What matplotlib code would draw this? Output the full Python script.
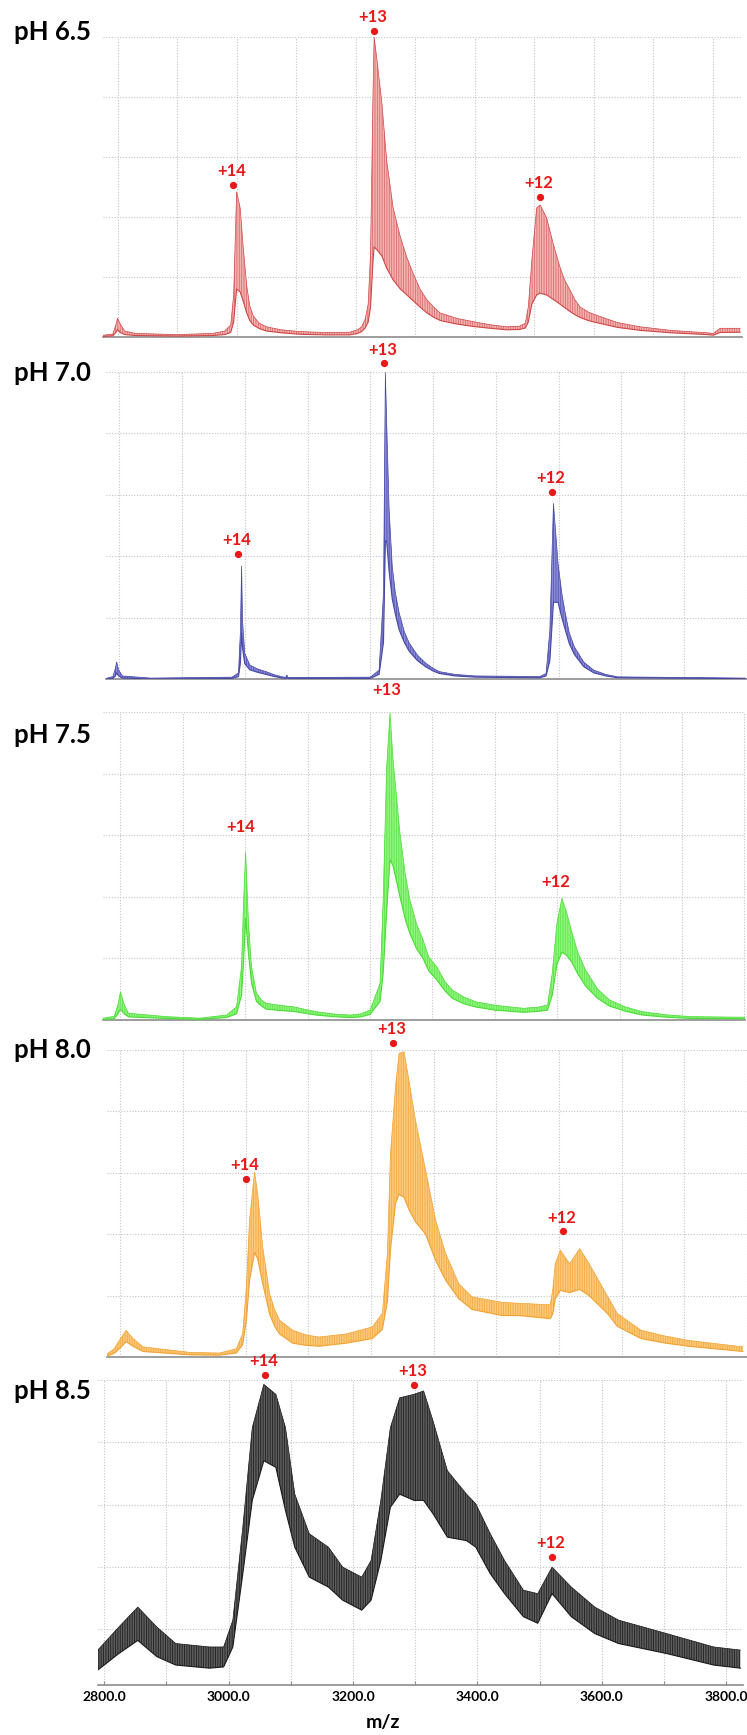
import numpy as np
import matplotlib
matplotlib.use('Agg')
import matplotlib.pyplot as plt

plt.rcParams['font.family'] = ['Lato', 'DejaVu Sans']
plt.rcParams['hatch.linewidth'] = 0.6

# --- spectra: m/z, upper and lower edge of the trace band (relative intensity, %) ---
ph65_mz = [2776, 2792, 2797, 2800, 2804, 2812, 2830, 2900, 2960, 2980, 2990, 2995, 2998, 3000, 3006,
           3011, 3017, 3022, 3028, 3038, 3050, 3075, 3107, 3150, 3190, 3203, 3210, 3216, 3221, 3225,
           3229, 3231, 3236, 3244, 3252, 3263, 3275, 3286, 3297, 3308, 3320, 3331, 3342, 3370, 3398,
           3426, 3454, 3475, 3485, 3490, 3496, 3504, 3510, 3521, 3532, 3543, 3551, 3560, 3568, 3577,
           3592, 3611, 3640, 3678, 3730, 3790, 3801, 3812, 3846]
ph65_hi = [0.6, 1.0, 4.0, 6.3, 4.5, 2.0, 1.2, 0.8, 1.2, 2.0, 4.0, 14, 35, 48.4, 43,
           30, 17, 10.5, 7, 4.6, 3.4, 2.4, 1.8, 1.5, 1.6, 2.4, 3.4, 6, 11, 28,
           80, 100, 92, 78, 59, 43, 33.4, 26.5, 21, 16, 12.3, 10, 8, 6.2, 5.1,
           4.1, 3.4, 3.6, 4.6, 10, 25.7, 43, 44, 39.6, 31, 23.4, 19, 15.7, 12.5, 10,
           8.2, 6.8, 4.8, 3.4, 2.2, 1.4, 1.2, 2.9, 2.9]
ph65_lo = [0.2, 0.4, 1.5, 2.5, 1.5, 0.8, 0.5, 0.3, 0.5, 0.8, 1.5, 5, 12, 16, 15,
           12, 8, 5.5, 4, 2.8, 2, 1.4, 0.9, 0.7, 0.7, 1.2, 1.8, 3, 5, 10,
           25, 30, 29, 27, 23, 19, 16, 14, 12, 10, 8, 6.6, 5.5, 4.3, 3.5,
           2.9, 2.4, 2.5, 3, 5, 11, 14, 14.6, 14, 12.5, 11, 9.8, 8.5, 7.5, 6.5,
           5.4, 4.5, 3.2, 2.2, 1.4, 0.8, 0.6, 1.5, 1.6]

ph70_mz = [2779, 2790, 2794, 2796, 2799, 2805, 2850, 2980, 2990, 2993, 2995, 2996.5, 3000, 3008,
           3020, 3034, 3047, 3060, 3065, 3067, 3069, 3200, 3214, 3221, 3224, 3226, 3230, 3235,
           3240, 3246, 3254, 3262, 3275, 3288, 3300, 3310, 3335, 3367, 3470, 3480, 3486, 3491.7,
           3499, 3505, 3510.6, 3517, 3525, 3540, 3556, 3575, 3594, 3797]
ph70_hi = [0.2, 0.8, 3.5, 5.6, 3.0, 1.0, 0.3, 0.6, 2.0, 15, 36.8, 19, 8.4, 4.6,
           3.3, 2.4, 1.4, 0.7, 0.5, 1.3, 0.5, 0.6, 2.9, 28, 99.8, 84, 55, 36.6,
           28, 21.5, 15.5, 11.7, 7.8, 5.2, 3.5, 2.4, 1.5, 1.0, 0.8, 1.8, 16, 57.2,
           37.7, 28, 21.4, 15, 10.5, 5.5, 2.9, 1.5, 0.7, 0.3]
ph70_lo = [0, 0.2, 1, 2, 1, 0.3, 0, 0.2, 0.8, 5, 15, 10, 5, 3,
           2.2, 1.5, 0.8, 0.3, 0.2, 0.4, 0.2, 0.2, 1.5, 12, 45, 45, 35, 26,
           21, 16, 12, 9, 6, 4, 2.6, 1.8, 1.0, 0.6, 0.4, 1, 6, 25,
           25, 20, 16, 11.5, 8, 4, 2, 1, 0.4, 0.1]

ph75_mz = [2772, 2790, 2796, 2800, 2806, 2813, 2874, 2927, 2970, 2986, 2994, 2997, 3000.6, 3005,
           3010, 3018, 3026, 3034, 3055, 3077, 3095, 3114, 3140, 3168, 3185, 3200, 3216, 3221,
           3226.6, 3232, 3237, 3248, 3256, 3264, 3275, 3285, 3294, 3307, 3320, 3332, 3350, 3370,
           3400, 3446, 3470, 3484.5, 3492, 3499.5, 3507.5, 3515, 3522.6, 3533, 3545.5, 3565, 3584,
           3610, 3637, 3675, 3713.5, 3801]
ph75_hi = [0.6, 1.2, 5, 9.2, 5, 2.2, 1.1, 0.6, 1.6, 4.3, 17.3, 36.8, 54.6, 32.4,
           17.3, 8.7, 6.5, 5.4, 4.8, 4.3, 3.5, 2.7, 2.0, 1.6, 2.0, 3.2, 11.9, 38.9,
           82, 99.7, 84.3, 60.6, 48, 38.9, 31, 26, 20.5, 17.3, 12.5, 9.7, 7.5, 5.9,
           4.8, 3.8, 4.2, 4.9, 15.1, 31.4, 39.5, 35, 29.2, 22, 16.2, 10, 6.5,
           4.2, 2.7, 1.7, 1.1, 0.9]
ph75_lo = [0.2, 0.4, 2, 3.5, 2, 1, 0.5, 0.2, 0.8, 2, 8, 18, 33, 22,
           12, 6, 4.5, 3.5, 3.1, 2.8, 2.2, 1.6, 1.1, 0.8, 1.0, 1.8, 6, 15,
           35, 52, 50, 40, 33, 28, 23, 20, 16, 13, 9.5, 7, 5.3, 4.2,
           3.2, 2.5, 2.8, 3.2, 8, 18, 22, 21, 19, 15, 11, 7, 4.5,
           2.8, 1.6, 0.9, 0.5, 0.4]

ph80_mz = [2778.5, 2790, 2800, 2809, 2820, 2836, 2911, 2958, 2985, 2995, 3001, 3006, 3014, 3019,
           3027, 3038, 3046, 3054, 3075, 3096, 3117, 3160, 3202, 3218, 3226, 3231, 3239, 3244.6,
           3252.6, 3260.5, 3271, 3287, 3303, 3319, 3340, 3361, 3409, 3436, 3486, 3490, 3494, 3502,
           3517, 3533, 3548, 3578, 3593, 3631, 3670, 3707, 3793.5]
ph80_hi = [1.0, 2.7, 6, 8.7, 6, 3.3, 1.5, 1.3, 2.7, 7.6, 22.8, 44.6, 60.3, 53.3,
           35.9, 20.7, 15.5, 12, 8.7, 7.2, 6.5, 7.5, 9.8, 14.2, 33.7, 66.3, 88, 98.9,
           99.4, 90, 77, 60.9, 44.6, 33.7, 23.9, 19.6, 17.8, 17.5, 17, 22, 30.4, 34.8,
           30.4, 35.3, 30.4, 19.6, 14.2, 8.7, 6.8, 5.4, 3.3]
ph80_lo = [0.3, 1.2, 3, 5, 3.5, 1.8, 0.7, 0.6, 1.3, 4, 12, 25, 34, 32,
           24, 14, 10, 7.5, 4.5, 3.8, 3.5, 4.5, 6, 9, 18, 35, 50, 53,
           52, 48, 44, 40, 31.5, 25, 19, 15.5, 13.5, 13.5, 12.5, 14, 19, 21.7,
           21, 22, 20, 14, 10, 6, 4.5, 3.5, 1.8]

ph85_mz = [2789.7, 2823.5, 2854, 2884.6, 2915, 2969, 2992, 3006.8, 3022.8, 3038, 3056.6, 3076,
           3091.5, 3106.4, 3129.7, 3160.5, 3183.4, 3214, 3229, 3244.7, 3260, 3275, 3298, 3313.5,
           3328.8, 3351.8, 3382.5, 3397.4, 3420.7, 3443.7, 3474, 3497, 3520, 3551, 3588.7, 3627,
           3704, 3780, 3822.7]
ph85_hi = [13.4, 20.8, 27.2, 20.8, 15.5, 14.4, 14.4, 23, 52.8, 84.7, 98.6, 95.4,
           84.7, 63.4, 50.7, 46.4, 40, 36.8, 42.1, 61.4, 84.7, 94.3, 95.4, 96.5,
           86.8, 70.9, 63.4, 60.3, 50.7, 42.1, 32.6, 31.5, 40, 33.6, 27.2, 23,
           18.7, 14.4, 13.4]
ph85_lo = [7.0, 12.3, 16.5, 11.3, 8.6, 7.6, 8.0, 14.4, 37.9, 61.4, 74.1, 72,
           58.1, 46.4, 36.8, 33.6, 29.4, 26.2, 29.4, 42.1, 59.2, 63.4, 61.4, 61.4,
           57.1, 49.6, 48.5, 46.4, 37.9, 31.5, 24.1, 22, 31.5, 24.1, 18.7, 15.5,
           12.3, 8.6, 7.6]

# --- charge-state annotations: label, m/z, height of the marker (%) ---
ions = ['+14', '+13', '+12']
ph65_ion_mz = [2994.5, 3231.4, 3509]
ph65_ion_y = [50.7, 102, 46.8]
ph70_ion_mz = [2990, 3222.6, 3490]
ph70_ion_y = [40.7, 102.8, 60.9]
ph75_ion_mz = [2994.7, 3228.7, 3499.5]
ph75_ion_y = [58.2, 102.5, 40.3]
ph80_ion_mz = [3000.8, 3235.6, 3507]
ph80_ion_y = [57.9, 102.4, 40.9]
ph85_ion_mz = [3059, 3298, 3520]
ph85_ion_y = [101.6, 98.3, 43.2]

titles = ['pH 6.5', 'pH 7.0', 'pH 7.5', 'pH 8.0', 'pH 8.5']
xticks = [2800, 3000, 3200, 3400, 3600, 3800]

panels = [
    (ph65_mz, ph65_hi, ph65_lo, ph65_ion_mz, ph65_ion_y),
    (ph70_mz, ph70_hi, ph70_lo, ph70_ion_mz, ph70_ion_y),
    (ph75_mz, ph75_hi, ph75_lo, ph75_ion_mz, ph75_ion_y),
    (ph80_mz, ph80_hi, ph80_lo, ph80_ion_mz, ph80_ion_y),
    (ph85_mz, ph85_hi, ph85_lo, ph85_ion_mz, ph85_ion_y),
]

# styles / layout (pixels of the 747x1735 figure)
fills = ['#f3b4b4', '#8c8cd8', '#90f47e', '#fcca7c', '#5e5e5e']
hatchc = ['#de6a6a', '#5555b4', '#5ee64a', '#f5aa40', '#1e1e1e']
edges = ['#cf4646', '#4646a6', '#4cdc38', '#f2a233', '#1a1a1a']
boxes = [(103, 37, 742, 337), (106, 372, 747, 679), (103, 712, 745, 1020),
         (107, 1050, 747, 1357), (98, 1380, 743, 1685)]
xlims = [(2775.5, 3849), (2779, 3797), (2772, 3801), (2778.5, 3797), (2790, 3827)]
ylims = [(0, 100)] * 4 + [(2.2, 100)]
title_y = [32, 373, 735, 1050, 1391]
show_dot = [True, True, False, True, True]

W, H = 747, 1735
fig = plt.figure(figsize=(W / 100, H / 100), dpi=100)

for i, (mz, hi, lo, imz, iy) in enumerate(panels):
    l, t, r, b = boxes[i]
    ax = fig.add_axes([l / W, 1 - b / H, (r - l) / W, (b - t) / H])
    ax.fill_between(mz, lo, hi, facecolor=fills[i], edgecolor=hatchc[i], hatch='|||||||',
                    lw=0, zorder=3)
    ax.plot(mz, hi, color=edges[i], lw=0.5, zorder=4)
    ax.plot(mz, lo, color=edges[i], lw=0.8, zorder=4)
    ax.set_xlim(*xlims[i])
    ax.set_ylim(*ylims[i])
    ax.set_xticks(np.arange(2800, 3900, 100))
    ax.set_yticks([20, 40, 60, 80, 100])
    ax.grid(True, color='#c4c4c4', ls=(0, (1, 1.5)), lw=0.8, zorder=0)
    for s in ['left', 'right', 'top']:
        ax.spines[s].set_visible(False)
    ax.spines['bottom'].set_color('#8c8c8c')
    ax.spines['bottom'].set_linewidth(1.2)
    ax.tick_params(axis='y', left=False, labelleft=False)
    if i < 4:
        ax.tick_params(axis='x', bottom=False, labelbottom=False)
    else:
        ax.tick_params(axis='x', direction='in', length=3, color='#8c8c8c', pad=4)
        ax.set_xticklabels([f'{v:.1f}' if v in xticks else '' for v in np.arange(2800, 3900, 100)],
                           fontsize=10, fontweight='bold')
    for lab, x, y in zip(ions, imz, iy):
        if show_dot[i]:
            ax.plot(x, y, 'o', color='#e81818', ms=4.2, clip_on=False, zorder=6)
        ax.annotate(lab, (x, y), xytext=(-1, 10), textcoords='offset points',
                    ha='center', va='center', color='#e81818', fontsize=12,
                    fontweight='bold', annotation_clip=False, zorder=6)
    fig.text(14 / W, 1 - title_y[i] / H, titles[i], fontsize=18.5, fontweight='bold',
             ha='left', va='center')

fig.text(383 / W, 1 - 1722 / H, 'm/z', fontsize=14, fontweight='bold', ha='center', va='center')

fig.savefig('out.png', dpi=100)
